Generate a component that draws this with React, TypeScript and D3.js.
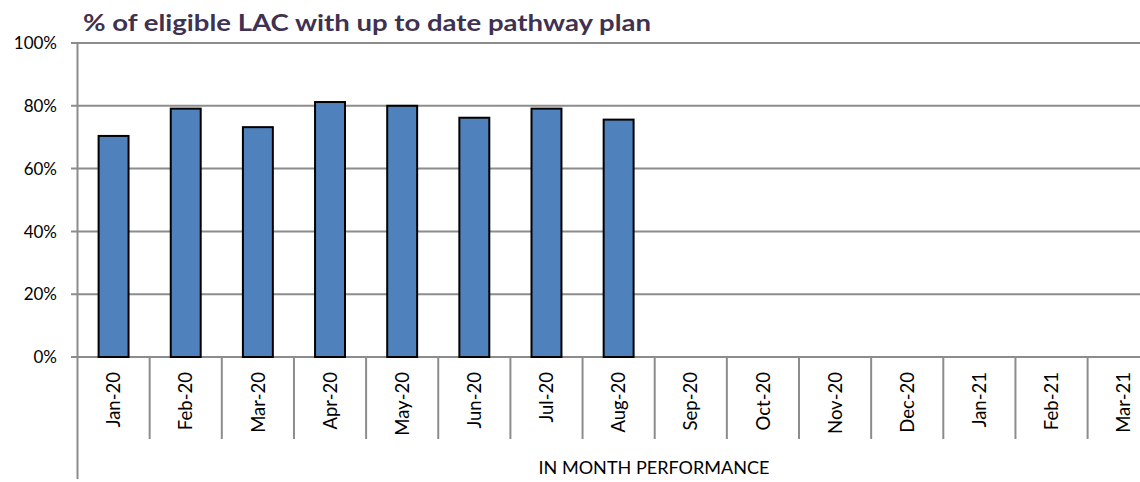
import React from "react";
import * as d3 from "d3";

const months = ["Jan-20","Feb-20","Mar-20","Apr-20","May-20","Jun-20","Jul-20","Aug-20","Sep-20","Oct-20","Nov-20","Dec-20","Jan-21","Feb-21","Mar-21"];
const values: (number | null)[] = [0.704, 0.791, 0.732, 0.812, 0.80, 0.762, 0.791, 0.756, null, null, null, null, null, null, null];
const yTicks = [0, 0.2, 0.4, 0.6, 0.8, 1.0];
const title = "% of eligible LAC with up to date pathway plan";
const axisTitle = "IN MONTH PERFORMANCE";

export default function App() {
  const W = 1140, H = 482;
  const x0 = 77.5;
  const bandW = 72.15;
  const x = d3.scaleBand<string>().domain(months).range([x0, x0 + bandW * months.length]).paddingInner(0.585).paddingOuter(0.2925);
  const y = d3.scaleLinear().domain([0, 1]).range([357, 43]);
  const fmt = d3.format(".0%");
  const grid = "#8c8c8c";
  const font = "Lato, 'Open Sans', 'Liberation Sans', Arial, sans-serif";
  return (
    <svg width={W} height={H} style={{ position: "absolute", left: 0, top: 0, background: "#fff" }}>
      <text x={83} y={31} fontFamily={font} fontWeight="bold" fontSize={22} fill="#3f3151" textLength={568} lengthAdjust="spacingAndGlyphs">{title}</text>
      {yTicks.map((t) => (
        <g key={t}>
          <line x1={71} x2={W} y1={y(t)} y2={y(t)} stroke={grid} strokeWidth={2} />
          <text x={57} y={y(t)} dy="0.36em" textAnchor="end" fontFamily={font} fontSize={17} fill="#000">{fmt(t)}</text>
        </g>
      ))}
      <line x1={x0} x2={x0} y1={43} y2={479} stroke={grid} strokeWidth={2} />
      {months.map((m, i) => (
        <line key={"d" + m} x1={x0 + bandW * (i + 1)} x2={x0 + bandW * (i + 1)} y1={357} y2={439} stroke={grid} strokeWidth={2} />
      ))}
      {months.map((m, i) => {
        const v = values[i];
        if (v == null) return null;
        return (
          <rect key={"b" + m} x={x(m)!} y={y(v)} width={x.bandwidth()} height={y(0) - y(v)} fill="#4f81bd" stroke="#000" strokeWidth={2} />
        );
      })}
      {months.map((m) => {
        const cx = x(m)! + x.bandwidth() / 2;
        return (
          <text key={"l" + m} transform={`translate(${cx},372) rotate(-90)`} textAnchor="end" dy="0.36em" fontFamily={font} fontSize={18.5} fill="#000">{m}</text>
        );
      })}
      <text x={654} y={474} textAnchor="middle" fontFamily={font} fontSize={17} fill="#000" textLength={231} lengthAdjust="spacingAndGlyphs">{axisTitle}</text>
    </svg>
  );
}
